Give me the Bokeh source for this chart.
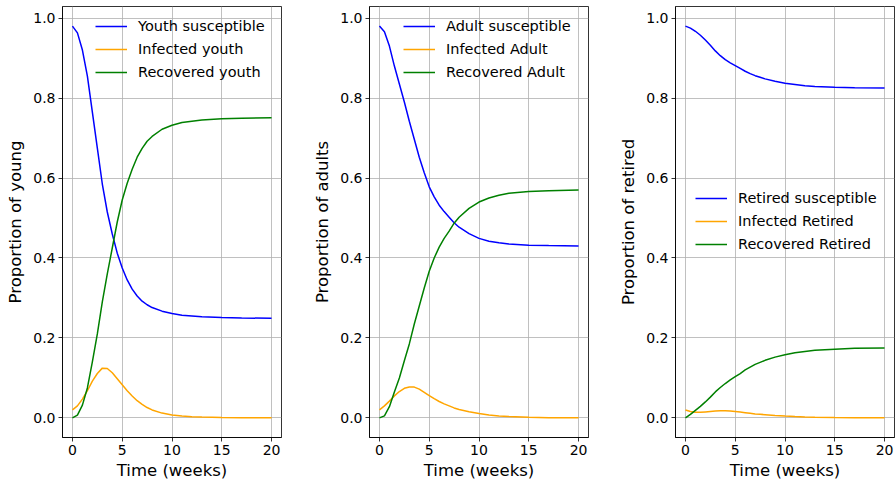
from bokeh.plotting import figure
from bokeh.layouts import row
from bokeh.models import Range1d, FixedTicker, PrintfTickFormatter
from bokeh.embed import file_html
from bokeh.resources import INLINE

# ---- data ----
weeks = [0, 0.5, 1, 1.5, 2, 2.5, 3, 3.5, 4, 4.5, 5, 5.5, 6, 6.5, 7, 7.5, 8, 9, 10, 11, 12, 13, 15, 17, 20]

youth_susceptible = [0.98, 0.963, 0.92, 0.855, 0.765, 0.675, 0.585, 0.515, 0.46, 0.412, 0.375, 0.345, 0.322,
                     0.305, 0.292, 0.283, 0.276, 0.267, 0.261, 0.257, 0.255, 0.253, 0.251, 0.25, 0.249]
youth_infected = [0.02, 0.03, 0.047, 0.068, 0.092, 0.111, 0.1245, 0.1235, 0.113, 0.098, 0.083, 0.068, 0.055,
                  0.043, 0.034, 0.026, 0.02, 0.012, 0.0075, 0.0045, 0.003, 0.002, 0.001, 0.0005, 0.0001]
youth_recovered = [0.0, 0.007, 0.032, 0.075, 0.14, 0.21, 0.29, 0.36, 0.425, 0.49, 0.545, 0.587, 0.622,
                   0.652, 0.674, 0.692, 0.704, 0.722, 0.732, 0.739, 0.742, 0.745, 0.748, 0.7495, 0.751]

adult_susceptible = [0.98, 0.966, 0.93, 0.88, 0.835, 0.79, 0.742, 0.697, 0.652, 0.613, 0.578, 0.553, 0.532,
                     0.516, 0.502, 0.488, 0.477, 0.461, 0.449, 0.442, 0.438, 0.435, 0.432, 0.431, 0.43]
adult_infected = [0.02, 0.03, 0.042, 0.055, 0.066, 0.074, 0.0775, 0.077, 0.072, 0.064, 0.056, 0.048, 0.041,
                  0.035, 0.03, 0.025, 0.021, 0.0155, 0.011, 0.0075, 0.005, 0.0035, 0.0015, 0.0007, 0.0002]
adult_recovered = [0.0, 0.005, 0.028, 0.065, 0.1, 0.143, 0.185, 0.235, 0.28, 0.325, 0.367, 0.4, 0.427,
                   0.449, 0.467, 0.487, 0.502, 0.524, 0.54, 0.55, 0.557, 0.562, 0.566, 0.568, 0.57]

retired_susceptible = [0.98, 0.975, 0.967, 0.957, 0.945, 0.932, 0.918, 0.906, 0.896, 0.888, 0.881, 0.874, 0.867,
                       0.861, 0.856, 0.852, 0.848, 0.842, 0.837, 0.834, 0.831, 0.829, 0.827, 0.826, 0.825]
retired_infected = [0.02, 0.016, 0.014, 0.014, 0.015, 0.016, 0.017, 0.018, 0.018, 0.017, 0.016, 0.0145, 0.013,
                    0.0115, 0.01, 0.009, 0.008, 0.006, 0.0045, 0.0033, 0.0024, 0.0017, 0.0009, 0.0004, 0.0001]
retired_recovered = [0.0, 0.009, 0.019, 0.029, 0.04, 0.052, 0.065, 0.076, 0.086, 0.095, 0.103, 0.111, 0.12,
                     0.127, 0.134, 0.139, 0.144, 0.152, 0.158, 0.163, 0.166, 0.169, 0.172, 0.174, 0.175]

x_ticks = [0, 5, 10, 15, 20]
y_ticks = [0.0, 0.2, 0.4, 0.6, 0.8, 1.0]

colors = ["blue", "orange", "green"]

FONT = "DejaVu Sans"
FRAME_W = 219
FRAME_H = 431
LEG_ROW = 20
LEG_SP = 3
LEG_H = 3 * LEG_ROW + 2 * LEG_SP


def make_panel(ylabel, series, labels, b_left, b_right, leg_x, leg_top):
    p = figure(frame_width=FRAME_W, frame_height=FRAME_H, output_backend="svg", toolbar_location=None,
               x_range=Range1d(-1, 21), y_range=Range1d(-0.049, 1.029),
               min_border_left=b_left, min_border_right=b_right, min_border_top=6, min_border_bottom=47)
    p.background_fill_color = "white"
    p.border_fill_color = "white"
    p.outline_line_color = "black"
    p.outline_line_width = 0.8

    for ys, lab, c in zip(series, labels, colors):
        p.line(weeks, ys, line_color=c, line_width=1.5, legend_label=lab)

    p.xaxis.ticker = FixedTicker(ticks=x_ticks)
    p.yaxis.ticker = FixedTicker(ticks=y_ticks)
    p.yaxis.formatter = PrintfTickFormatter(format="%.1f")
    p.xaxis.axis_label = "Time (weeks)"
    p.yaxis.axis_label = ylabel
    for ax in (p.xaxis, p.yaxis):
        ax.axis_label_text_font = FONT
        ax.axis_label_text_font_size = "16.5px"
        ax.axis_label_text_font_style = "normal"
        ax.axis_label_text_color = "black"
        ax.major_label_text_font = FONT
        ax.major_label_text_font_size = "14px"
        ax.major_label_text_color = "black"
        ax.axis_line_color = "black"
        ax.axis_line_width = 0.8
        ax.major_tick_line_color = "black"
        ax.major_tick_line_width = 0.8
        ax.major_tick_out = 4
        ax.major_tick_in = 0
        ax.minor_tick_line_color = None
    p.xaxis.major_label_standoff = 3
    p.xaxis.axis_label_standoff = 3
    p.yaxis.major_label_standoff = 3
    p.yaxis.axis_label_standoff = 5

    p.grid.grid_line_color = "#b0b0b0"
    p.grid.grid_line_width = 0.8
    p.xgrid.ticker = FixedTicker(ticks=x_ticks)
    p.ygrid.ticker = FixedTicker(ticks=y_ticks)

    lg = p.legend[0]
    lg.location = (leg_x, FRAME_H - leg_top - LEG_H)
    lg.background_fill_alpha = 0
    lg.border_line_alpha = 0
    lg.padding = 0
    lg.margin = 0
    lg.spacing = LEG_SP
    lg.glyph_width = 32
    lg.glyph_height = LEG_ROW
    lg.label_height = LEG_ROW
    lg.label_standoff = 11
    lg.label_text_font = FONT
    lg.label_text_font_size = "14.5px"
    lg.label_text_color = "black"
    return p


p1 = make_panel("Proportion of young", [youth_susceptible, youth_infected, youth_recovered],
                ["Youth susceptible", "Infected youth", "Recovered youth"], 62, 14, 33, 10)
p2 = make_panel("Proportion of adults", [adult_susceptible, adult_infected, adult_recovered],
                ["Adult susceptible", "Infected Adult", "Recovered Adult"], 74, 13, 34, 10)
p3 = make_panel("Proportion of retired", [retired_susceptible, retired_infected, retired_recovered],
                ["Retired susceptible", "Infected Retired", "Recovered Retired"], 74, 1, 20, 182)

layout = row(p1, p2, p3, spacing=0)

open("out.html", "w").write(file_html(layout, INLINE))
